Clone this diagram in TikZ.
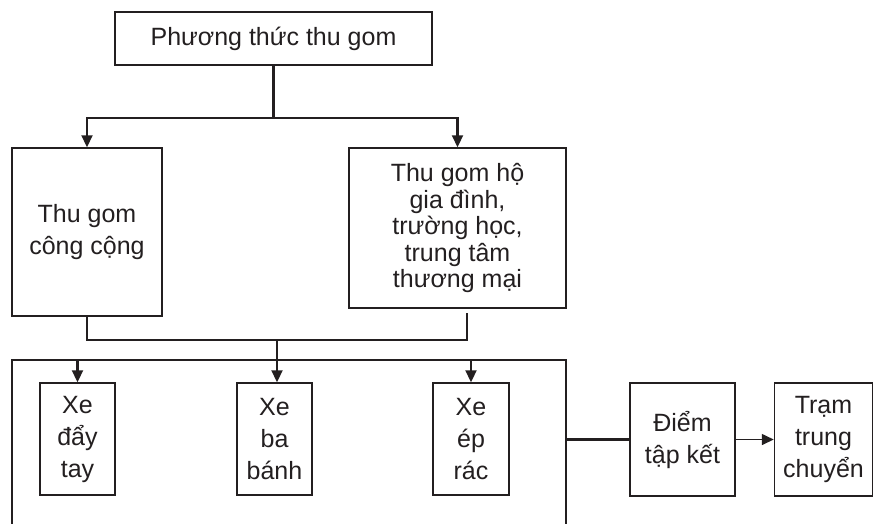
\documentclass[tikz,border=0pt]{standalone}
\usepackage{fontspec}
\setmainfont{Liberation Sans}
\usetikzlibrary{arrows.meta}
\definecolor{ink}{HTML}{231F20}
\tikzset{
  box/.style={draw=ink, line width=1.5pt, fill=white, inner sep=0pt, align=center, text=ink},
  conn/.style={draw=ink, line width=2.2pt},
  tip/.style={-{Triangle[length=12pt,width=11pt]}},
  loose/.style={font=\fontsize{25}{32}\selectfont},
  tight/.style={font=\fontsize{25}{26.5}\selectfont},
}
\begin{document}
\begin{tikzpicture}[x=1pt,y=-1pt]
  \clip (0,0) rectangle (885,523);
  \fill[white] (0,0) rectangle (885,523);

  % upper level
  \node[box, loose, minimum width=317pt, minimum height=53pt] (top) at (273.5,38.5) {Phương thức thu gom};
  \node[box, loose, minimum width=150pt, minimum height=168pt] (pub) at (87,232) {Thu gom\\công cộng};
  \node[box, tight, minimum width=217pt, minimum height=160pt] (home) at (457.5,228)
    {Thu gom hộ\\gia đình,\\trường học,\\trung tâm\\thương mại};

  % vehicles frame (bottom edge runs off the page)
  \node[box, minimum width=554pt, minimum height=190pt] (fleet) at (289,455) {};
  \node[box, loose, minimum width=75pt, minimum height=112pt] (cart) at (77.5,439) {Xe\\đẩy\\tay};
  \node[box, loose, minimum width=75pt, minimum height=112pt] (tri) at (274.5,439) {Xe\\ba\\bánh};
  \node[box, loose, minimum width=76pt, minimum height=112pt] (comp) at (471,439) {Xe\\ép\\rác};

  % right chain
  \node[box, loose, minimum width=105pt, minimum height=113pt] (point) at (682.5,439.5) {Điểm\\tập kết};
  \node[box, loose, minimum width=98pt, minimum height=113pt] (station) at (823.5,439.5) {Trạm\\trung\\chuyển};

  % split from the top box
  \draw[conn] (top.south) -- ++(0,52) coordinate (j1);
  \draw[conn, tip] (j1) -| (pub.north);
  \draw[conn, tip] (j1) -| (home.north);

  % merge into the vehicles frame
  \coordinate (j2) at (277,340);
  \coordinate (hb) at ([xshift=9.5pt,yshift=-4pt]home.south);
  \draw[conn] (pub.south) |- (j2) -| (hb);
  \draw[conn, tip] (j2) -- (j2 |- tri.north);
  \draw[conn, tip] (fleet.north -| cart.north) -- (cart.north);
  \draw[conn, tip] (fleet.north -| comp.north) -- (comp.north);

  % to collection point and transfer station
  \draw[conn] (fleet.east |- point.west) -- (point.west);
  \draw[conn, line width=1.6pt, tip] (point) -- (station);
\end{tikzpicture}
\end{document}
